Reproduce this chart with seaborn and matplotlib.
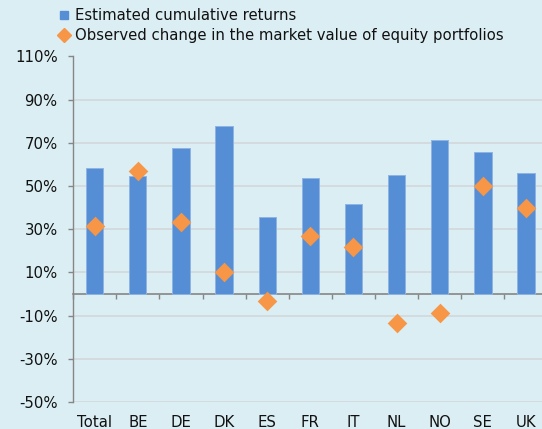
import numpy as np
import pandas as pd
import matplotlib
matplotlib.use("Agg")
import matplotlib.pyplot as plt
from matplotlib.lines import Line2D
import seaborn as sns

categories = ["Total", "BE", "DE", "DK", "ES", "FR", "IT", "NL", "NO", "SE", "UK"]
estimated_returns = [58.5, 54.8, 67.6, 77.8, 35.6, 53.7, 41.7, 55.3, 71.3, 65.6, 56.0]
observed_change = [31.6, 56.8, 33.5, 10.1, -3.2, 26.8, 21.6, -13.5, -8.6, 49.9, 39.8]
y_ticks = [-50, -30, -10, 10, 30, 50, 70, 90, 110]
legend_labels = ["Estimated cumulative returns",
                 "Observed change in the market value of equity portfolios"]

BG = "#DAEEF3"
BAR = "#558ED5"
ORANGE = "#F79646"
AXC = "#868686"
GRID = "#D2D8DB"
TXT = "#111111"
FS = 10.7

sns.set_style("white")
plt.rcParams["font.family"] = ["DejaVu Sans"]

df = pd.DataFrame({"cat": categories, "est": estimated_returns, "obs": observed_change})

fig = plt.figure(figsize=(5.42, 4.29), dpi=100, facecolor=BG)
ax = fig.add_axes([73.1 / 542, 27 / 429, 474.5 / 542, 345.5 / 429])
ax.set_facecolor(BG)

sns.barplot(data=df, x="cat", y="est", color=BAR, saturation=1, width=0.40,
            edgecolor="#8DB4E2", linewidth=0.7, ax=ax, zorder=2)
sns.stripplot(data=df, x="cat", y="obs", color=ORANGE, marker="D", size=10.0,
              jitter=False, linewidth=0, ax=ax, zorder=3)

ax.set_ylim(-50, 110)
ax.set_xlim(-0.5, len(categories) - 0.5)
ax.set_yticks(y_ticks)
ax.set_yticklabels([f"{v}%" for v in y_ticks], fontsize=FS, color=TXT)
ax.set_xlabel("")
ax.set_ylabel("")
ax.yaxis.grid(True, color=GRID, linewidth=1.2, zorder=0)
ax.set_axisbelow(True)
ax.tick_params(axis="y", direction="out", length=3.6, width=1, color=AXC, pad=7.5, left=True)
ax.tick_params(axis="x", length=0, pad=9.5, labelsize=FS, labelcolor=TXT)
for s in ["top", "right", "bottom"]:
    ax.spines[s].set_visible(False)
ax.spines["left"].set_color(AXC)
ax.spines["left"].set_linewidth(1)

# zero line with category boundary ticks
zero_frac = (0 - y_ticks[0]) / (y_ticks[-1] - y_ticks[0])
sec = ax.secondary_xaxis(zero_frac)
sec.set_xticks(np.arange(-0.5, len(categories), 1.0))
sec.set_xticklabels([])
sec.tick_params(axis="x", direction="out", length=3.6, width=1, color=AXC)
for s in sec.spines.values():
    s.set_color(AXC)
    s.set_linewidth(1.2)

handles = [
    Line2D([], [], linestyle="none", marker="s", markersize=5.6, color=BAR),
    Line2D([], [], linestyle="none", marker="D", markersize=6.8, color=ORANGE),
]
fig.legend(handles, legend_labels, loc="upper left", bbox_to_anchor=(57 / 542, 1 - 8 / 429),
           frameon=False, fontsize=FS, handlelength=1.0, handletextpad=0.2,
           labelspacing=0.34, borderpad=0, borderaxespad=0, labelcolor=TXT)

fig.savefig("out.png", dpi=100, facecolor=BG)
